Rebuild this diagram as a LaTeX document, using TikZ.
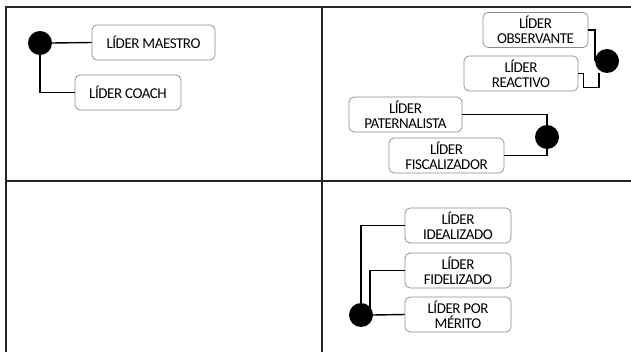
\documentclass[tikz,border=0pt]{standalone}
\usepackage{fontspec}
\setmainfont{Carlito}
\begin{document}
\begin{tikzpicture}[x=1pt,y=-1pt,
    lbox/.style={draw=black!45, line width=.7pt, rounded corners=5pt, fill=white,
      minimum height=35pt, inner sep=1pt, align=center, text=black,
      font=\fontsize{15}{15}\selectfont\addfontfeature{LetterSpace=-3}},
    dot/.style={circle, fill=black, minimum size=24pt, inner sep=0pt},
    link/.style={line width=1.4pt}]

      \useasboundingbox (0,0) rectangle (631,352);

      % grid of the four panels
      \begin{scope}[line width=2pt, black!85]
        \draw (631,7) -- (6,7) -- (6,352);
        \draw (322,7) -- (322,352);
        \draw (6,181) -- (631,181);
      \end{scope}

      \begin{scope}[every node/.style={lbox}]
        \node[minimum width=123pt] (maestro) at (153.5,42.5) {LÍDER MAESTRO};
        \node[minimum width=106pt] (coach)   at (128,92.5)   {LÍDER COACH};
        \node[minimum width=105pt] (observ)  at (535.5,30)   {LÍDER\\OBSERVANTE};
        \node[minimum width=114pt] (reactivo) at (521,73.5)  {LÍDER\\REACTIVO};
        \node[minimum width=113pt] (patern)  at (405.5,114.5) {LÍDER\\PATERNALISTA};
        \node[minimum width=115pt] (fiscal)  at (446.5,155.5) {LÍDER\\FISCALIZADOR};
        \node[minimum width=106pt] (ideal)   at (458,225.5)  {LÍDER\\IDEALIZADO};
        \node[minimum width=106pt] (fidel)   at (458,270.5)  {LÍDER\\FIDELIZADO};
        \node[minimum width=106pt] (merito)  at (458,314.5)  {LÍDER POR\\MÉRITO};
      \end{scope}

      \begin{scope}[every node/.style={dot}]
        \node (d1) at (40,43)   {};
        \node (d2) at (607,61)  {};
        \node (d3) at (547,137) {};
        \node (d4) at (361,315) {};
      \end{scope}

      \begin{scope}[every path/.style={link}]
        \draw (d1.east) -- (maestro.west);
        \draw (d1) |- (coach.west);
        \draw (observ.east) -| (d2.west);
        \draw (reactivo.east) -- ++(5,0) -- ++(0,14) -| ([xshift=-8pt]d2.south);
        \draw (patern.east) -| (d3.north);
        \draw (fiscal.east) -| (d3.south);
        \draw (ideal.west) -| (d4.north);
        \draw (fidel.west) -| ([xshift=9pt]d4.center);
        \draw (d4.east) -- (merito.west);
      \end{scope}

    \end{tikzpicture}
\end{document}
